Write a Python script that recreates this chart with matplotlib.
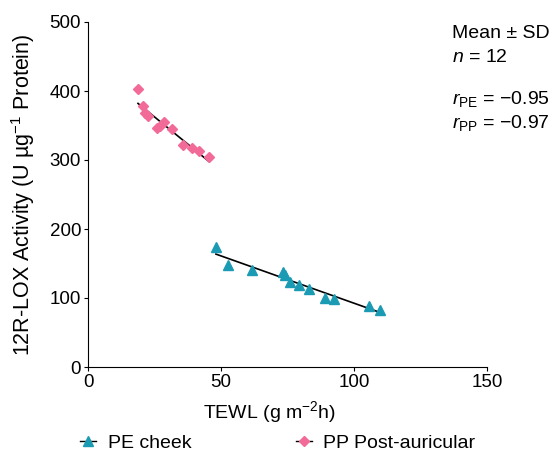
import numpy as np
import matplotlib.pyplot as plt
from matplotlib.lines import Line2D

plt.rcParams['font.family'] = ['Liberation Sans', 'DejaVu Sans']
plt.rcParams['mathtext.fontset'] = 'custom'
plt.rcParams['mathtext.rm'] = 'Liberation Sans'
plt.rcParams['mathtext.it'] = 'Liberation Sans:italic'

# PE cheek
pe_tewl = [48.1, 52.6, 61.7, 73.3, 74.1, 75.9, 79.3, 83.1, 89.1, 92.5, 105.6, 109.8]
pe_lox = [174, 148, 141, 138, 133, 123, 119, 113, 100, 99, 88, 83]

# PP Post-auricular
pp_tewl = [18.8, 20.7, 21.4, 22.6, 26.0, 27.1, 28.6, 31.6, 35.7, 39.1, 41.7, 45.5]
pp_lox = [403, 378, 368, 364, 346, 349, 355, 345, 322, 317, 313, 304]

pe_color = '#1b9bb3'
pp_color = '#f26a98'
fs = 13.5

fig = plt.figure(figsize=(5.57, 4.57), dpi=100)
ax = fig.add_axes([88/557, 1 - 367/457, (487-88)/557, (367-22)/457])

for xs, ys, col, mk, ms in [(pe_tewl, pe_lox, pe_color, '^', 7.5),
                            (pp_tewl, pp_lox, pp_color, 'D', 5.5)]:
    xs = np.array(xs)
    ys = np.array(ys)
    k, b = np.polyfit(xs, ys, 1)
    xl = np.array([xs.min(), xs.max()])
    ax.plot(xl, k*xl + b, color='black', lw=1.2, zorder=2)
    ax.plot(xs, ys, linestyle='none', marker=mk, color=col, ms=ms, zorder=3)

ax.set_xlim(0, 150)
ax.set_ylim(0, 500)
ax.set_xticks([0, 50, 100, 150])
ax.set_yticks([0, 100, 200, 300, 400, 500])
ax.spines['top'].set_visible(False)
ax.spines['right'].set_visible(False)
ax.tick_params(direction='out', length=3, labelsize=fs, pad=2)
ax.set_xlabel('TEWL (g m$^{-2}$h)', fontsize=14)
ax.xaxis.set_label_coords(0.456, -0.093, transform=ax.transAxes)
ax.xaxis.label.set_va('top')
ax.set_ylabel('12R-LOX Activity (U µg$^{-1}$ Protein)', fontsize=15.5)
ax.yaxis.set_label_coords(23/557, 1 - 195/457, transform=fig.transFigure)
ax.yaxis.label.set_va('center')

tx = 452/557
fig.text(tx, 1 - 33/457, 'Mean ± SD', fontsize=14, va='center')
fig.text(tx, 1 - 58/457, '$n$ = 12', fontsize=14, va='center')
fig.text(tx, 1 - 99/457, '$r_{\\mathrm{PE}}$ = \u22120.95', fontsize=14, va='center')
fig.text(tx, 1 - 123/457, '$r_{\\mathrm{PP}}$ = \u22120.97', fontsize=14, va='center')

handles = [Line2D([], [], color='black', lw=1, marker='^', mfc=pe_color, mec=pe_color, ms=7),
           Line2D([], [], color='black', lw=1, marker='D', mfc=pp_color, mec=pp_color, ms=5)]
fig.legend(handles, ['PE cheek', 'PP Post-auricular'], loc='center', ncol=2,
           bbox_to_anchor=(278/557, 1 - 443/457), frameon=False, fontsize=14,
           handlelength=0.8, columnspacing=5.4, handletextpad=0.6)

fig.savefig('out.png', dpi=100)
